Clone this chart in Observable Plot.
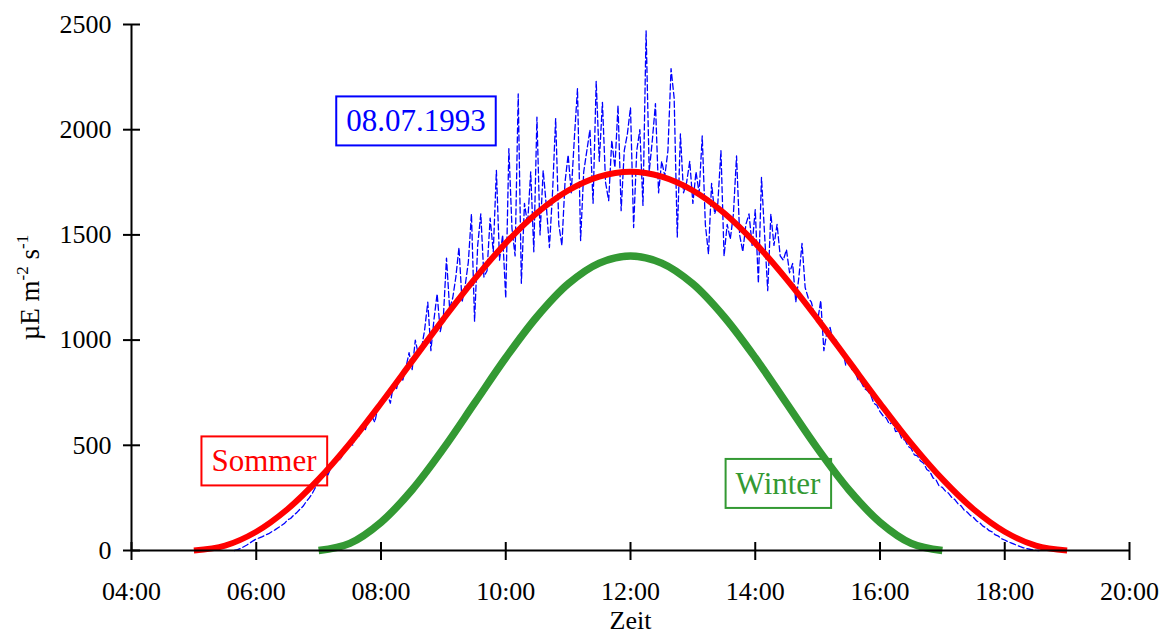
<!DOCTYPE html>
<html>
<head>
<meta charset="utf-8">
<script src="https://cdn.jsdelivr.net/npm/d3@7"></script>
<script src="https://cdn.jsdelivr.net/npm/@observablehq/plot@0.6"></script>
<style>
  html, body { margin: 0; padding: 0; background: #fff; }
  #chart { width: 1161px; height: 638px; }
</style>
</head>
<body>
<div id="chart"></div>
<script>
// ---- tick values ----
const xTicks = [4, 6, 8, 10, 12, 14, 16, 18, 20];
const yTicks = [0, 500, 1000, 1500, 2000, 2500];
const seriesNames = ["Sommer", "Winter", "08.07.1993"];
const xTitle = "Zeit";

// ---- Sommer model curve (hours, µE m-2 s-1) ----
const sommerHours = [5, 5.5, 6, 6.5, 7, 7.5, 8, 8.5, 9, 9.5, 10, 10.5, 11, 11.5, 12,
  12.5, 13, 13.5, 14, 14.5, 15, 15.5, 16, 16.5, 17, 17.5, 18, 18.5, 19];
const sommerValues = [0, 23, 89, 196, 339, 509, 700, 900, 1100, 1290, 1461, 1604, 1711, 1777, 1800,
  1777, 1711, 1604, 1461, 1290, 1100, 900, 700, 509, 339, 196, 89, 23, 0];

// ---- Winter model curve ----
const winterHours = [7, 7.5, 8, 8.5, 9, 9.5, 10, 10.5, 11, 11.5, 12,
  12.5, 13, 13.5, 14, 14.5, 15, 15.5, 16, 16.5, 17];
const winterValues = [0, 34, 134, 289, 484, 700, 916, 1111, 1267, 1366, 1400,
  1366, 1267, 1111, 916, 700, 484, 289, 134, 34, 0];

// ---- measured 08.07.1993, every 3 minutes from 05:39 ----
const measuredStartHour = 5 + 39 / 60;
const measuredStepMinutes = 3;
const measuredValues = [
  // 05:39 - 05:57
  0, 4, 10, 18, 26, 36, 46,
  // 06
  55, 60, 66, 74, 80, 90, 98, 108, 118, 128, 145, 152, 168, 180, 196, 210, 232, 250, 272, 300,
  // 07
  330, 345, 372, 360, 395, 410, 440, 430, 470, 485, 520, 500, 560, 545, 590, 575, 625, 640, 610, 680,
  // 08
  690, 720, 745, 700, 790, 770, 830, 810, 870, 940, 860, 1000, 930, 960, 1050, 1180, 950, 1100, 1220, 1040,
  // 09
  1110, 1390, 1150, 1200, 1300, 1440, 1180, 1260, 1370, 1600, 1090, 1450, 1600, 1300, 1330, 1580, 1420, 1806, 1380, 1500,
  // 10
  1200, 1910, 1530, 1400, 2170, 1270, 1650, 1550, 1800, 1420, 2060, 1500, 1806, 1640, 1440, 1700, 2053, 1550, 1450, 1750,
  // 11
  1880, 1700, 1960, 2195, 1473, 1800, 1900, 2000, 1650, 2230, 1850, 2130, 1750, 1663, 1950, 1820, 2115, 1615, 1900, 1980,
  // 12
  2105, 1535, 1900, 2000, 1640, 2470, 1800, 1950, 2124, 1700, 1850, 1780, 1900, 2290, 2150, 1490, 1980, 1700, 1750, 1850,
  // 13
  1650, 1800, 1700, 1970, 1550, 1410, 1745, 1600, 1650, 1900, 1400, 1550, 1480, 1600, 1875, 1500, 1420, 1550, 1600, 1450,
  // 14
  1620, 1270, 1773, 1500, 1235, 1600, 1450, 1550, 1400, 1380, 1430, 1320, 1364, 1180, 1300, 1460, 1250, 1200, 1180, 1120,
  // 15
  1090, 1188, 950, 1040, 1060, 990, 1000, 950, 960, 880, 900, 860, 850, 810, 800, 770, 760, 740, 700, 690,
  // 16
  660, 640, 630, 600, 610, 565, 570, 530, 525, 495, 485, 455, 450, 425, 415, 385, 375, 345, 335, 305,
  // 17
  300, 282, 272, 252, 242, 222, 212, 192, 182, 166, 157, 140, 132, 116, 108, 94, 88, 74, 68, 56,
  // 18:00 - 18:33
  50, 42, 36, 30, 24, 18, 13, 9, 6, 3, 1, 0
];

// ---- build tables ----
const sommer = sommerHours.map((t, i) => ({t, v: sommerValues[i]}));
const winter = winterHours.map((t, i) => ({t, v: winterValues[i]}));
const measured = measuredValues.map((v, i) => ({t: measuredStartHour + i * measuredStepMinutes / 60, v}));

const fmtTime = d => String(d).padStart(2, "0") + ":00";
const RED = "#ff0000", GREEN = "#339933", BLUE = "#0000ff";

const plot = Plot.plot({
  width: 1161,
  height: 638,
  marginLeft: 131,
  marginRight: 32,
  marginTop: 24,
  marginBottom: 88,
  style: {fontFamily: "'Liberation Serif', 'Times New Roman', serif", fontSize: "26px", color: "#000", background: "#fff"},
  x: {domain: [4, 20]},
  y: {domain: [0, 2500]},
  marks: [
    // annotation labels (boxes added after render)
    Plot.text([seriesNames[0]], {x: () => 6.124, y: () => 423, fill: RED, fontSize: 31, className: "boxed", lineAnchor: "middle"}),
    Plot.text([seriesNames[1]], {x: () => 14.365, y: () => 316, fill: GREEN, fontSize: 31, className: "boxed", lineAnchor: "middle"}),
    Plot.text([seriesNames[2]], {x: () => 8.561, y: () => 2039, fill: BLUE, fontSize: 31, className: "boxed", lineAnchor: "middle"}),
    // series
    Plot.line(measured, {x: "t", y: "v", stroke: BLUE, strokeWidth: 1.3, strokeDasharray: "6,3"}),
    Plot.line(winter, {x: "t", y: "v", stroke: GREEN, strokeWidth: 7.5, curve: "catmull-rom", strokeLinecap: "butt"}),
    Plot.line(sommer, {x: "t", y: "v", stroke: RED, strokeWidth: 6, curve: "catmull-rom", strokeLinecap: "butt"}),
    // axis lines
    Plot.ruleY([0], {stroke: "#000", strokeWidth: 2}),
    Plot.ruleX([4], {stroke: "#000", strokeWidth: 2}),
    // crossing ticks
    Plot.axisX({ticks: xTicks, tickSize: 18, dy: -8, tickFormat: () => "", strokeWidth: 2, label: null}),
    Plot.axisY({ticks: yTicks, tickSize: 17, dx: 9, tickFormat: () => "", strokeWidth: 2, label: null}),
    // tick labels
    Plot.axisX({ticks: xTicks, tickSize: 0, tickPadding: 31, tickFormat: fmtTime, label: null, fill: "#000"}),
    Plot.axisY({ticks: yTicks, tickSize: 0, tickPadding: 20, tickFormat: d => String(d), label: null, fill: "#000"}),
    // axis titles
    Plot.text([xTitle], {frameAnchor: "bottom", dy: 78, fontSize: 26, fill: "#000"}),
    Plot.text(["µE m-2 s-1"], {frameAnchor: "left", dx: -101, rotate: -90, textAnchor: "middle", fontSize: 27, fill: "#000", className: "ylab"})
  ]
});

document.getElementById("chart").appendChild(plot);

// boxes around annotation labels
d3.select(plot).selectAll("g.boxed text").each(function() {
  const bb = this.getBBox();
  const padX = 10, padY = 7;
  const color = this.getAttribute("fill") || d3.select(this.parentNode).attr("fill");
  const rect = document.createElementNS("http://www.w3.org/2000/svg", "rect");
  rect.setAttribute("x", bb.x - padX);
  rect.setAttribute("y", bb.y - padY);
  rect.setAttribute("width", bb.width + 2 * padX);
  rect.setAttribute("height", bb.height + 2 * padY);
  rect.setAttribute("fill", "none");
  rect.setAttribute("stroke", color);
  rect.setAttribute("stroke-width", 2);
  const tr = this.getAttribute("transform");
  if (tr) rect.setAttribute("transform", tr);
  this.parentNode.insertBefore(rect, this);
});

// superscripts in y label
d3.select(plot).selectAll("g.ylab text").each(function() {
  const t = d3.select(this);
  t.text(null);
  t.append("tspan").text("µE m");
  t.append("tspan").attr("dy", -11).attr("font-size", 17).text("-2");
  t.append("tspan").attr("dy", 11).text(" s");
  t.append("tspan").attr("dy", -11).attr("font-size", 17).text("-1");
});
</script>
</body>
</html>
